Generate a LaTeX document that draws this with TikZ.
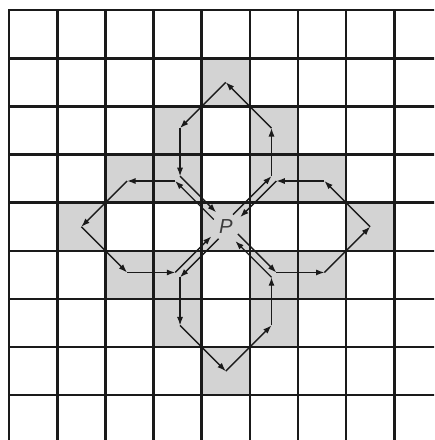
\documentclass[tikz,border=0pt]{standalone}
\usepackage{fontspec}
\setmainfont{Liberation Sans}
\usetikzlibrary{arrows.meta}
\definecolor{cellGray}{HTML}{D3D3D3}
\definecolor{lineInk}{HTML}{1A1A1A}
\begin{document}
\begin{tikzpicture}[
      gridline/.style={line width=1.5pt,draw=lineInk,line cap=rect},
      mv/.style={-{Latex[length=5pt,width=3.6pt]},line width=0.8pt,draw=lineInk}]
  \useasboundingbox (-0.19,-0.93) rectangle (8.83,8.21);
  \clip (-0.19,-0.93) rectangle (8.83,8.21);
  \fill[white] (-0.19,-0.93) rectangle (8.83,8.21);

  \foreach \dx/\dy in {0/0,0/3,0/-3,3/0,-3/0,1/1,1/-1,-1/1,-1/-1,
                       1/2,1/-2,-1/2,-1/-2,2/1,2/-1,-2/1,-2/-1}
    \fill[cellGray] (4+\dx,3+\dy) rectangle ++(1,1);
  \foreach \i in {0,...,9}
    \draw[gridline] (\i,-1) -- (\i,8);
  \foreach \j in {0,...,8}
    \draw[gridline] (0,\j) -- (10,\j);

  \node[font=\itshape\large,text=lineInk!85,inner sep=0pt] (P) at (4.5,3.5) {P};

  \foreach \rot/\nm in {0/up,90/lf,180/dn,270/rt}{
    \begin{scope}[shift={(4.5,3.5)},rotate=\rot]
      \coordinate (\nm0) at (0.15,0.25);
      \coordinate (\nm1) at (0.95,1.05);
      \coordinate (\nm2) at (0.95,2.05);
      \coordinate (\nm3) at (0,3);
      \coordinate (\nm4) at (-0.95,2.05);
      \coordinate (\nm5) at (-0.95,1.05);
      \coordinate (\nm6) at (-0.2,0.3);
    \end{scope}
    \foreach \ka/\kb in {0/1,1/2,2/3,3/4,4/5,5/6}
      \draw[mv] (\nm\ka) -- (\nm\kb);
  }
\end{tikzpicture}
\end{document}
